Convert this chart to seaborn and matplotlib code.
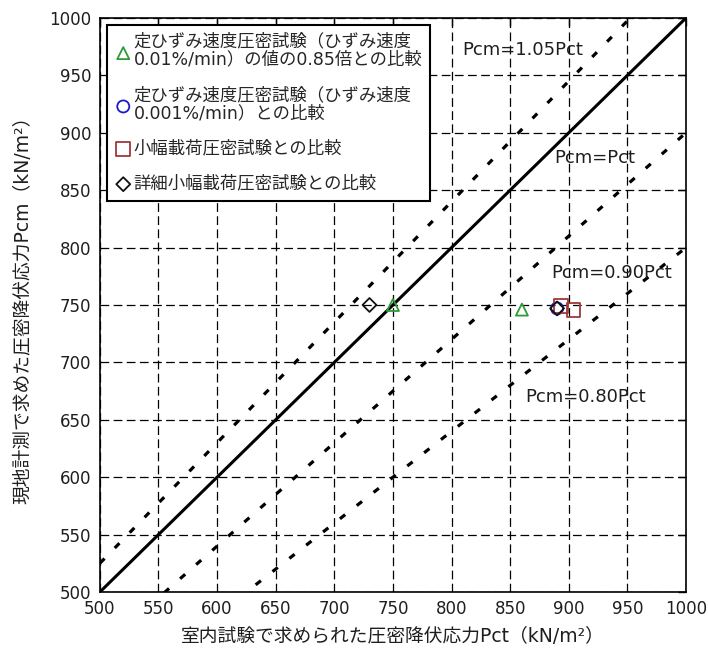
import numpy as np
import pandas as pd
import matplotlib
matplotlib.use("Agg")
import matplotlib.pyplot as plt
import seaborn as sns

# Yield stress: laboratory test (Pct) vs. field measurement (Pcm), kN/m2
tri_pct = [750, 860]
tri_pcm = [750, 746]
circ_pct = [890]
circ_pcm = [747]
sq_pct = [893, 904]
sq_pcm = [749, 746]
dia_pct = [730, 890]
dia_pcm = [750, 747]

labels = [
    "定ひずみ速度圧密試験（ひずみ速度\n0.01%/min）の値の0.85倍との比較",
    "定ひずみ速度圧密試験（ひずみ速度\n0.001%/min）との比較",
    "小幅載荷圧密試験との比較",
    "詳細小幅載荷圧密試験との比較",
]

# Reference lines Pcm = k * Pct
ratios = [1.05, 1.00, 0.90, 0.80]
ratio_labels = ["Pcm=1.05Pct", "Pcm=Pct", "Pcm=0.90Pct", "Pcm=0.80Pct"]
ratio_label_pos = [(809, 972), (888, 878), (885, 778), (863, 670)]

ticks = list(range(500, 1001, 50))

sns.set_theme(style="white")
plt.rcParams["font.family"] = ["DejaVu Sans", "Noto Sans CJK JP"]
TXT = "#1e1e1e"

fig = plt.figure(figsize=(7.08, 6.63), dpi=100)
ax = fig.add_axes([0.141, 0.107, 0.828, 0.866])

pct_line = np.array([500, 1000])
for k in ratios:
    df = pd.DataFrame({"Pct": pct_line, "Pcm": k * pct_line})
    if k == 1.0:
        sns.lineplot(data=df, x="Pct", y="Pcm", ax=ax, color="black", lw=2.2, zorder=3)
    else:
        sns.lineplot(data=df, x="Pct", y="Pcm", ax=ax, color="black", lw=2.3,
                     linestyle=(0, (2.1, 4.6)), zorder=3)

series = [
    (tri_pct, tri_pcm, "^", "#2e9a3a", 75),
    (circ_pct, circ_pcm, "o", "#1a1acc", 75),
    (sq_pct, sq_pcm, "s", "#a03838", 100),
    (dia_pct, dia_pcm, "D", "#111111", 50),
]
for (x, y, m, c, s), lab in zip(series, labels):
    sns.scatterplot(x=x, y=y, ax=ax, marker=m, s=s, facecolors="none",
                    edgecolor=c, linewidth=1.3, label=lab, zorder=5)

for txt, (tx, ty) in zip(ratio_labels, ratio_label_pos):
    ax.text(tx, ty, txt, fontsize=13, ha="left", va="center", color=TXT,
            zorder=4)

ax.set_xlim(500, 1000)
ax.set_ylim(500, 1000)
ax.set_xticks(ticks)
ax.set_yticks(ticks)
ax.tick_params(axis="both", direction="in", length=6, width=1, color="black",
               labelsize=12, labelcolor=TXT, top=True, right=True)
ax.tick_params(axis="x", pad=6)
ax.tick_params(axis="y", pad=6)
ax.grid(True, color="black", linestyle=(0, (7, 3.5)), linewidth=0.9)
for sp in ax.spines.values():
    sp.set_color("black")
    sp.set_linewidth(1.2)

ax.set_xlabel("室内試験で求められた圧密降伏応力Pct（kN/m²）", fontsize=13.5,
              color=TXT, labelpad=6)
ax.set_ylabel("現地計測で求めた圧密降伏応力Pcm（kN/m²）", fontsize=13.5,
              color=TXT, labelpad=12)

leg = ax.legend(loc="upper left", fontsize=12.5, frameon=True, fancybox=False,
                framealpha=1, edgecolor="black", borderpad=0.45,
                handletextpad=0.1, handlelength=1.0, labelspacing=1.0,
                borderaxespad=0.4)
leg.get_frame().set_linewidth(1.5)
for t in leg.get_texts():
    t.set_linespacing(1.0)

fig.savefig("out.png", dpi=100)
